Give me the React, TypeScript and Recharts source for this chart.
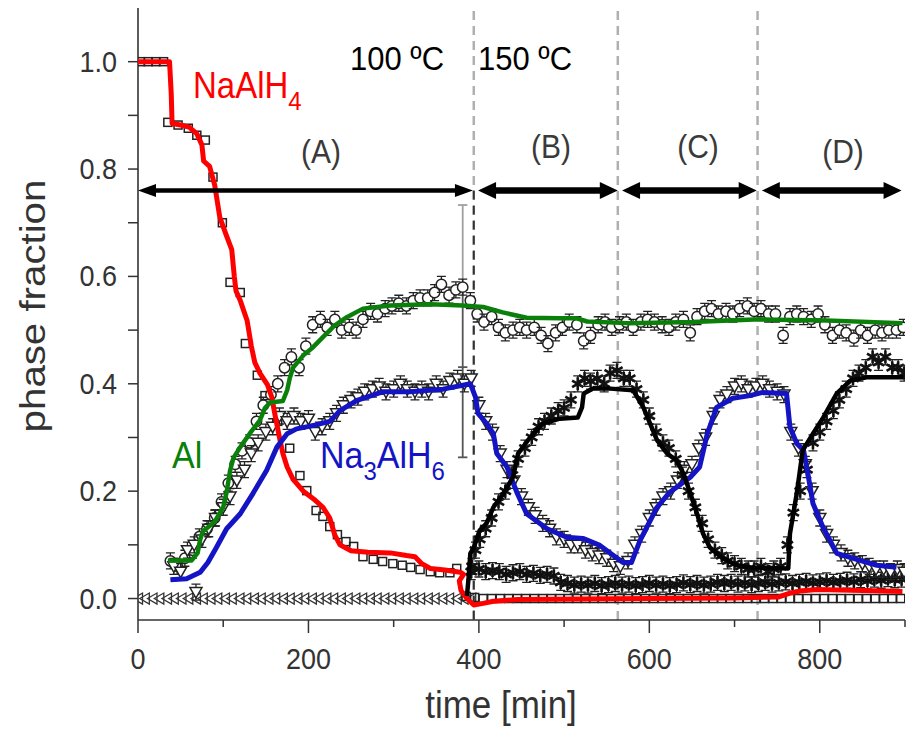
import React from "react";
import { ComposedChart, XAxis, YAxis, Line, Scatter, ReferenceLine } from "recharts";

const FONT = "'Liberation Sans', Arial, Helvetica, sans-serif";
const SY = 1.1; // source figure is slightly stretched vertically
const INK = "#222";

const xTicks = [0, 100, 200, 300, 400, 500, 600, 700, 800, 900];
const yTicks = [0, 0.1, 0.2, 0.3, 0.4, 0.5, 0.6, 0.7, 0.8, 0.9, 1.0];

// fitted curves: [time (min), phase fraction]
const naAlH4Fit = [
  [0, 1.0], [37, 1.0], [39, 0.94], [40, 0.885], [50, 0.882], [60, 0.878], [69, 0.866], [75, 0.845],
  [77, 0.815], [84, 0.805], [90, 0.77], [96, 0.71], [104, 0.675], [110, 0.65], [113, 0.6], [115, 0.573],
  [120, 0.555], [128, 0.518], [133, 0.47], [137, 0.44], [143, 0.42], [152, 0.398], [157, 0.375],
  [161, 0.34], [166, 0.3], [170, 0.27], [175, 0.245], [182, 0.222], [194, 0.2], [208, 0.183],
  [217, 0.17], [225, 0.15], [231, 0.118], [237, 0.1], [250, 0.089], [270, 0.086], [296, 0.085],
  [315, 0.08], [325, 0.078], [333, 0.065], [343, 0.056], [360, 0.053], [378, 0.049], [382, 0.045],
  [377, 0.033], [379, 0.015], [386, 0.0], [394, -0.012], [405, -0.009], [417, -0.005], [445, -0.002],
  [520, -0.001], [600, 0.0], [700, 0.001], [752, 0.003], [765, 0.01], [777, 0.014], [797, 0.017],
  [850, 0.015], [897, 0.013],
];
const alFit = [
  [35, 0.071], [63, 0.071], [70, 0.085], [73, 0.11], [76, 0.125], [90, 0.143], [100, 0.17], [104, 0.198],
  [108, 0.238], [112, 0.262], [120, 0.282], [131, 0.307], [143, 0.332], [149, 0.355], [155, 0.365],
  [170, 0.368], [175, 0.388], [178, 0.41], [182, 0.43], [194, 0.453], [204, 0.466], [217, 0.487],
  [231, 0.509], [245, 0.524], [264, 0.54], [296, 0.546], [343, 0.548], [381, 0.546], [405, 0.543],
  [428, 0.533], [456, 0.523], [495, 0.522], [515, 0.522], [527, 0.516], [574, 0.513], [651, 0.515],
  [730, 0.52], [808, 0.518], [897, 0.513],
];
const na3AlH6Fit = [
  [38, 0.035], [57, 0.037], [73, 0.049], [82, 0.067], [92, 0.095], [104, 0.13], [120, 0.158], [135, 0.196],
  [151, 0.239], [163, 0.282], [175, 0.307], [186, 0.316], [205, 0.322], [225, 0.33], [237, 0.35],
  [257, 0.369], [287, 0.385], [319, 0.385], [358, 0.39], [390, 0.4], [396, 0.375], [399, 0.345],
  [409, 0.326], [417, 0.307], [421, 0.27], [433, 0.245], [445, 0.196], [456, 0.158], [480, 0.13],
  [503, 0.114], [522, 0.112], [542, 0.099], [569, 0.067], [579, 0.067], [589, 0.108], [609, 0.17],
  [624, 0.198], [648, 0.226], [659, 0.245], [668, 0.307], [679, 0.356], [698, 0.373], [718, 0.378],
  [733, 0.384], [761, 0.382], [765, 0.319], [773, 0.289], [781, 0.276], [786, 0.233], [792, 0.177],
  [804, 0.132], [820, 0.084], [847, 0.071], [867, 0.062], [890, 0.058],
];
const naHFit = [
  [386, 0.005], [388, 0.04], [390, 0.084], [394, 0.095], [401, 0.127], [409, 0.14], [417, 0.17],
  [429, 0.196], [440, 0.226], [446, 0.27], [460, 0.3], [475, 0.326], [495, 0.335], [516, 0.337],
  [521, 0.356], [523, 0.382], [534, 0.391], [554, 0.391], [581, 0.388], [593, 0.356], [609, 0.295],
  [621, 0.27], [632, 0.257], [640, 0.233], [648, 0.196], [656, 0.158], [663, 0.121], [671, 0.095],
  [686, 0.075], [703, 0.062], [718, 0.058], [763, 0.056], [765, 0.121], [773, 0.196], [780, 0.276],
  [792, 0.307], [804, 0.337], [820, 0.382], [836, 0.406], [855, 0.412], [898, 0.412],
];

// measured points
const naAlH4Pts = [
  [3, 1.0], [12, 1.0], [21, 1.0], [30, 1.0], [35, 0.887], [47, 0.882], [59, 0.876], [69, 0.863],
  [79, 0.854], [88, 0.785], [99, 0.7], [108, 0.589], [120, 0.57], [126, 0.475], [140, 0.416],
  [149, 0.378], [164, 0.33], [178, 0.28], [190, 0.229], [198, 0.201], [209, 0.164], [217, 0.153],
  [225, 0.134], [234, 0.119], [244, 0.106], [253, 0.097], [264, 0.078], [276, 0.073], [287, 0.069],
  [299, 0.065], [310, 0.062], [320, 0.058], [331, 0.054], [343, 0.05], [354, 0.048], [366, 0.048],
  [374, 0.056], [385, 0.004], [395, 0.002], [405, 0.0], [415, 0.0], [425, 0.0], [435, 0.0], [445, 0.0],
  [455, 0.0], [465, 0.0], [475, 0.0], [485, 0.0], [495, 0.0], [505, 0.0], [515, 0.0], [525, 0.0],
  [535, 0.0], [545, 0.0], [555, 0.0], [565, 0.0], [575, 0.0], [585, 0.0], [595, 0.0], [605, 0.0],
  [615, 0.0], [625, 0.0], [635, 0.0], [645, 0.0], [655, 0.0], [665, 0.0], [675, 0.0], [685, 0.0],
  [695, 0.0], [705, 0.0], [715, 0.0], [725, 0.0], [735, 0.0], [745, 0.0], [755, 0.0], [765, 0.0],
  [775, 0.0], [785, 0.0], [795, 0.0], [805, 0.0], [815, 0.0], [825, 0.0], [835, 0.0], [845, 0.0],
  [855, 0.0], [865, 0.0], [875, 0.0], [885, 0.0], [895, 0.0],
];
const alPts = [
  [38, 0.07], [46, 0.06], [55, 0.075], [64, 0.09], [72, 0.115], [81, 0.13], [90, 0.15], [98, 0.18],
  [106, 0.215], [114, 0.25], [122, 0.275], [131, 0.29], [139, 0.33], [147, 0.36], [156, 0.38],
  [164, 0.4], [172, 0.43], [180, 0.45], [189, 0.43], [197, 0.47], [205, 0.51], [214, 0.52], [222, 0.505],
  [231, 0.52], [239, 0.5], [248, 0.505], [256, 0.5], [264, 0.52], [273, 0.535], [281, 0.53], [290, 0.54],
  [298, 0.545], [306, 0.55], [315, 0.545], [323, 0.555], [331, 0.56], [340, 0.56], [348, 0.57],
  [356, 0.585], [365, 0.565], [373, 0.575], [381, 0.58], [390, 0.555], [398, 0.53], [406, 0.515],
  [415, 0.525], [423, 0.505], [431, 0.495], [440, 0.5], [448, 0.505], [456, 0.5], [465, 0.505],
  [473, 0.49], [481, 0.475], [490, 0.495], [498, 0.505], [506, 0.515], [515, 0.51], [523, 0.48],
  [531, 0.49], [540, 0.51], [548, 0.515], [556, 0.505], [565, 0.51], [573, 0.515], [581, 0.505],
  [590, 0.515], [598, 0.52], [606, 0.515], [615, 0.51], [623, 0.505], [631, 0.515], [640, 0.52],
  [648, 0.495], [656, 0.525], [665, 0.535], [673, 0.54], [681, 0.53], [690, 0.535], [698, 0.53],
  [706, 0.54], [715, 0.545], [723, 0.535], [731, 0.54], [740, 0.53], [748, 0.53], [757, 0.49],
  [765, 0.525], [773, 0.53], [781, 0.525], [790, 0.52], [798, 0.53], [806, 0.51], [815, 0.49],
  [823, 0.5], [831, 0.495], [840, 0.485], [848, 0.5], [856, 0.49], [865, 0.5], [873, 0.495],
  [881, 0.5], [890, 0.5], [898, 0.505],
];
const na3AlH6Pts = [
  [42, 0.06], [50, 0.05], [58, 0.09], [66, 0.1], [68, 0.012], [75, 0.11], [83, 0.13], [91, 0.15],
  [100, 0.17], [108, 0.19], [116, 0.22], [125, 0.24], [133, 0.27], [141, 0.29], [150, 0.31], [158, 0.32],
  [166, 0.34], [175, 0.33], [183, 0.34], [191, 0.33], [200, 0.335], [208, 0.31], [216, 0.32], [225, 0.33],
  [233, 0.345], [241, 0.36], [250, 0.37], [258, 0.375], [266, 0.385], [275, 0.39], [283, 0.395],
  [291, 0.385], [300, 0.39], [308, 0.4], [316, 0.39], [325, 0.385], [333, 0.39], [341, 0.385],
  [350, 0.4], [358, 0.39], [366, 0.405], [375, 0.41], [383, 0.4], [391, 0.41], [400, 0.36], [408, 0.33],
  [416, 0.31], [425, 0.27], [433, 0.24], [441, 0.22], [450, 0.19], [458, 0.17], [466, 0.155],
  [475, 0.14], [483, 0.13], [491, 0.115], [500, 0.11], [508, 0.1], [516, 0.1], [525, 0.09], [533, 0.085],
  [541, 0.08], [550, 0.075], [558, 0.065], [566, 0.06], [575, 0.07], [583, 0.1], [591, 0.12], [600, 0.15],
  [608, 0.17], [616, 0.19], [625, 0.2], [633, 0.22], [641, 0.24], [650, 0.25], [658, 0.28], [666, 0.3],
  [675, 0.34], [683, 0.37], [691, 0.38], [700, 0.395], [708, 0.4], [716, 0.39], [725, 0.395],
  [733, 0.4], [741, 0.39], [750, 0.385], [758, 0.38], [766, 0.31], [775, 0.28], [783, 0.25], [791, 0.2],
  [800, 0.15], [808, 0.12], [816, 0.1], [825, 0.085], [833, 0.075], [841, 0.07], [850, 0.065],
  [858, 0.06], [866, 0.055], [875, 0.055], [883, 0.05], [891, 0.055], [899, 0.05],
];
const naHZeroPts = [
  [0, 0], [8, 0], [17, 0], [25, 0], [34, 0], [42, 0], [51, 0], [59, 0], [68, 0], [76, 0], [85, 0], [93, 0],
  [102, 0], [110, 0], [119, 0], [127, 0], [136, 0], [144, 0], [153, 0], [161, 0], [170, 0], [178, 0],
  [187, 0], [195, 0], [204, 0], [212, 0], [221, 0], [229, 0], [238, 0], [246, 0], [255, 0], [263, 0],
  [272, 0], [280, 0], [289, 0], [297, 0], [306, 0], [314, 0], [323, 0], [331, 0], [340, 0], [348, 0],
  [357, 0], [365, 0], [374, 0], [382, 0], [391, 0],
];
const naHPts = [
  [391, 0.05], [396, 0.09], [401, 0.11], [408, 0.13], [415, 0.15], [423, 0.18], [431, 0.2], [439, 0.23],
  [446, 0.26], [454, 0.28], [462, 0.3], [470, 0.32], [477, 0.33], [485, 0.34], [493, 0.35], [500, 0.355],
  [508, 0.37], [516, 0.4], [524, 0.41], [531, 0.405], [539, 0.41], [547, 0.4], [554, 0.42], [562, 0.425],
  [570, 0.41], [577, 0.41], [585, 0.39], [593, 0.37], [600, 0.34], [608, 0.31], [616, 0.29], [623, 0.28],
  [631, 0.26], [639, 0.23], [646, 0.2], [654, 0.17], [662, 0.14], [669, 0.11], [677, 0.09], [685, 0.08],
  [692, 0.07], [700, 0.065], [708, 0.06], [716, 0.055], [723, 0.055], [731, 0.06], [739, 0.05],
  [746, 0.055], [754, 0.06], [762, 0.1], [769, 0.16], [777, 0.2], [785, 0.24], [792, 0.29], [800, 0.31],
  [808, 0.33], [816, 0.35], [823, 0.37], [831, 0.39], [839, 0.41], [846, 0.42], [854, 0.43], [862, 0.45],
  [869, 0.44], [877, 0.45], [885, 0.43], [892, 0.43], [899, 0.42],
];
const minorPts = [
  [392, 0.06], [400, 0.055], [408, 0.05], [416, 0.052], [424, 0.05], [432, 0.045], [440, 0.048],
  [448, 0.05], [456, 0.045], [464, 0.047], [472, 0.043], [480, 0.045], [488, 0.042], [496, 0.03],
  [504, 0.028], [512, 0.025], [520, 0.027], [528, 0.025], [536, 0.028], [544, 0.024], [552, 0.026],
  [560, 0.028], [568, 0.025], [576, 0.027], [584, 0.024], [592, 0.026], [600, 0.028], [608, 0.025],
  [616, 0.027], [624, 0.024], [632, 0.026], [640, 0.029], [648, 0.026], [656, 0.028], [664, 0.025],
  [672, 0.027], [680, 0.03], [688, 0.028], [696, 0.03], [704, 0.027], [712, 0.029], [720, 0.026],
  [728, 0.028], [736, 0.03], [744, 0.027], [752, 0.029], [760, 0.031], [768, 0.028], [776, 0.03],
  [784, 0.032], [792, 0.029], [800, 0.031], [808, 0.033], [816, 0.03], [824, 0.032], [832, 0.034],
  [840, 0.031], [848, 0.035], [856, 0.033], [864, 0.036], [872, 0.034], [880, 0.037], [888, 0.035],
  [896, 0.036],
];

// stage arrows (A)-(D) as [from, to] in min, drawn at fraction arrowY
const stageArrows = [[0, 393], [399, 563], [568, 726], [732, 896]];
const arrowY = 0.76;
const tempStep = 394;
const stageBounds = [563, 727];
// representative error bar: [time, top, middle, cap, bottom]
const bigErr = [381, 0.733, 0.585, 0.431, 0.263];

const pts = (a: number[][]) => a.map(([t, v]) => ({ t, v }));

function ErrBar({ cx, cy }: any) {
  const h = 8;
  return (
    <path
      d={`M${cx},${cy - h}V${cy + h}M${cx - 4.5},${cy - h}H${cx + 4.5}M${cx - 4.5},${cy + h}H${cx + 4.5}`}
      stroke={INK}
      strokeWidth={1.3}
      fill="none"
    />
  );
}

function SquareMark({ cx, cy }: any) {
  return <rect x={cx - 4} y={cy - 4} width={8} height={8} fill="none" stroke={INK} strokeWidth={1.5} />;
}

function LeftTriMark({ cx, cy }: any) {
  return (
    <polygon
      points={`${cx - 5},${cy} ${cx + 4.5},${cy - 5.5} ${cx + 4.5},${cy + 5.5}`}
      fill="none"
      stroke="#333"
      strokeWidth={1.3}
    />
  );
}

function CircleMark({ cx, cy }: any) {
  return (
    <g>
      <ErrBar cx={cx} cy={cy} />
      <circle cx={cx} cy={cy} r={5.2} fill="#fff" stroke={INK} strokeWidth={1.5} />
    </g>
  );
}

function DownTriMark({ cx, cy }: any) {
  return (
    <g>
      <ErrBar cx={cx} cy={cy} />
      <polygon
        points={`${cx - 6},${cy - 4.5} ${cx + 6},${cy - 4.5} ${cx},${cy + 6}`}
        fill="#fff"
        stroke={INK}
        strokeWidth={1.5}
      />
    </g>
  );
}

function StarMark({ cx, cy }: any) {
  const r = 6.5;
  const a = r * 0.866;
  const b = r * 0.5;
  return (
    <g>
      <ErrBar cx={cx} cy={cy} />
      <path
        d={`M${cx},${cy - r}V${cy + r}M${cx - a},${cy - b}L${cx + a},${cy + b}M${cx - a},${cy + b}L${cx + a},${cy - b}`}
        stroke="#111"
        strokeWidth={2.6}
      />
    </g>
  );
}

function StageArrow({ x1, y1, x2, strokeWidth }: any) {
  const w = Number(strokeWidth) || 5;
  const hl = 18;
  const hh = w + 2;
  return (
    <g>
      <line x1={x1 + hl - 2} y1={y1} x2={x2 - hl + 2} y2={y1} stroke="#000" strokeWidth={w} />
      <polygon points={`${x1},${y1} ${x1 + hl},${y1 - hh} ${x1 + hl},${y1 + hh}`} fill="#000" />
      <polygon points={`${x2},${y1} ${x2 - hl},${y1 - hh} ${x2 - hl},${y1 + hh}`} fill="#000" />
    </g>
  );
}

function BottomTick({ x, y, payload }: any) {
  const v = payload.value;
  const major = v % 200 === 0;
  return (
    <g>
      <line x1={x} y1={y} x2={x} y2={y + (major ? 13 : 7)} stroke="#333" strokeWidth={1.5} />
      {major && (
        <text
          transform={`translate(${x},${y + 49}) scale(1,${SY})`}
          textAnchor="middle"
          fontSize={27}
          fill="#333"
          fontFamily={FONT}
        >
          {v}
        </text>
      )}
    </g>
  );
}

function TopTick({ x, y, payload }: any) {
  const major = payload.value % 200 === 0;
  return <line x1={x} y1={y} x2={x} y2={y + (major ? 10 : 6)} stroke="#555" strokeWidth={1.5} />;
}

function LeftTick({ x, y, payload }: any) {
  const v = payload.value;
  const labelled = Math.round(v * 10) % 2 === 0;
  return (
    <g>
      <line x1={x} y1={y} x2={x - 10} y2={y} stroke="#333" strokeWidth={1.5} />
      {labelled && (
        <text
          transform={`translate(${x - 21},${y + 10}) scale(1,${SY})`}
          textAnchor="end"
          fontSize={27}
          fill="#333"
          fontFamily={FONT}
        >
          {v.toFixed(1)}
        </text>
      )}
    </g>
  );
}

function RightTick({ x, y }: any) {
  return <line x1={x} y1={y} x2={x - 8} y2={y} stroke="#555" strokeWidth={1.5} />;
}

const ax = { xAxisId: "b", yAxisId: "l" };

export default function App() {
  return (
    <div style={{ position: "relative", width: 910, height: 729, background: "#fff" }}>
      <style>{`body{margin:0;background:#fff}`}</style>
      <ComposedChart width={910} height={729} margin={{ top: 8, right: 5, bottom: 0, left: 0 }}>
        <XAxis
          xAxisId="b"
          dataKey="t"
          type="number"
          domain={[0, 900]}
          ticks={xTicks}
          interval={0}
          height={109}
          tickSize={0}
          tickMargin={0}
          tickLine={false}
          tick={(p: any) => <BottomTick {...p} />}
          axisLine={{ stroke: "#333", strokeWidth: 1.6 }}
          allowDataOverflow
        />
        <XAxis
          xAxisId="top"
          orientation="top"
          type="number"
          domain={[0, 900]}
          ticks={xTicks}
          interval={0}
          height={0}
          tickSize={0}
          tickMargin={0}
          tickLine={false}
          tick={(p: any) => <TopTick {...p} />}
          axisLine={{ stroke: "#666", strokeWidth: 1.5 }}
          allowDataOverflow
        />
        <YAxis
          yAxisId="l"
          dataKey="v"
          type="number"
          domain={[-0.04, 1.1]}
          ticks={yTicks}
          interval={0}
          width={138}
          tickSize={0}
          tickMargin={0}
          tickLine={false}
          tick={(p: any) => <LeftTick {...p} />}
          axisLine={{ stroke: "#333", strokeWidth: 1.6 }}
          allowDataOverflow
        />
        <YAxis
          yAxisId="r"
          orientation="right"
          type="number"
          domain={[-0.04, 1.1]}
          ticks={yTicks}
          interval={0}
          width={0}
          tickSize={0}
          tickMargin={0}
          tickLine={false}
          tick={(p: any) => <RightTick {...p} />}
          axisLine={{ stroke: "#666", strokeWidth: 1.6 }}
          allowDataOverflow
        />

        <ReferenceLine {...ax} x={tempStep} stroke="#b0b0b0" strokeWidth={2.5} strokeDasharray="9 6" zIndex={100} />
        <ReferenceLine
          {...ax}
          segment={[{ x: tempStep, y: arrowY }, { x: tempStep, y: -0.04 }]}
          stroke="#333"
          strokeWidth={2}
          strokeDasharray="9 6"
          zIndex={100}
        />
        {stageBounds.map((b) => (
          <ReferenceLine key={b} {...ax} x={b} stroke="#b0b0b0" strokeWidth={2.5} strokeDasharray="9 6" zIndex={100} />
        ))}

        <Scatter {...ax} data={pts(naHZeroPts)} dataKey="v" shape={(p: any) => <LeftTriMark {...p} />} isAnimationActive={false} />
        <Scatter {...ax} data={pts(naAlH4Pts)} dataKey="v" shape={(p: any) => <SquareMark {...p} />} isAnimationActive={false} />
        <Scatter {...ax} data={pts(minorPts)} dataKey="v" shape={(p: any) => <StarMark {...p} />} isAnimationActive={false} />
        <Scatter {...ax} data={pts(alPts)} dataKey="v" shape={(p: any) => <CircleMark {...p} />} isAnimationActive={false} />
        <Scatter {...ax} data={pts(na3AlH6Pts)} dataKey="v" shape={(p: any) => <DownTriMark {...p} />} isAnimationActive={false} />
        <Scatter {...ax} data={pts(naHPts)} dataKey="v" shape={(p: any) => <StarMark {...p} />} isAnimationActive={false} />

        <ReferenceLine {...ax} segment={[{ x: bigErr[0], y: bigErr[1] }, { x: bigErr[0], y: bigErr[2] }]} stroke="#a0a0a0" strokeWidth={1.8} />
        <ReferenceLine {...ax} segment={[{ x: bigErr[0], y: bigErr[2] }, { x: bigErr[0], y: bigErr[4] }]} stroke="#555" strokeWidth={1.8} />
        {[bigErr[1], bigErr[3], bigErr[4]].map((yy) => (
          <ReferenceLine
            key={yy}
            {...ax}
            segment={[{ x: bigErr[0] - 5.5, y: yy }, { x: bigErr[0] + 5.5, y: yy }]}
            stroke={yy === bigErr[1] ? "#a0a0a0" : "#555"}
            strokeWidth={1.8}
          />
        ))}

        <Line {...ax} zIndex={700} data={pts(naAlH4Fit)} dataKey="v" type="linear" stroke="#ff0000" strokeWidth={5} strokeLinejoin="round" dot={false} isAnimationActive={false} />
        <Line {...ax} zIndex={700} data={pts(alFit)} dataKey="v" type="linear" stroke="#0a800a" strokeWidth={4.5} strokeLinejoin="round" dot={false} isAnimationActive={false} />
        <Line {...ax} zIndex={700} data={pts(na3AlH6Fit)} dataKey="v" type="linear" stroke="#1414c4" strokeWidth={5} strokeLinejoin="round" dot={false} isAnimationActive={false} />
        <Line {...ax} zIndex={700} data={pts(naHFit)} dataKey="v" type="linear" stroke="#000" strokeWidth={4.5} strokeLinejoin="round" dot={false} isAnimationActive={false} />

        {stageArrows.map(([a, b], i) => (
          <ReferenceLine
            key={a}
            {...ax}
            zIndex={800}
            segment={[{ x: a, y: arrowY }, { x: b, y: arrowY }]}
            stroke="#000"
            strokeWidth={i === 0 ? 4.5 : 6.5}
            shape={(p: any) => <StageArrow {...p} />}
          />
        ))}
      </ComposedChart>

      <svg
        width={910}
        height={729}
        style={{ position: "absolute", left: 0, top: 0, pointerEvents: "none" }}
        fontFamily={FONT}
      >
        <text transform={`translate(45,306) rotate(-90) scale(1.15,1)`} textAnchor="middle" fontSize={35} fill="#333">
          phase fraction
        </text>
        <text transform={`translate(501,718) scale(1,${SY})`} textAnchor="middle" fontSize={35} fill="#333">
          time [min]
        </text>
        <text transform={`translate(193,98) scale(1,${SY})`} fontSize={33} fill="#ff0000">
          NaAlH<tspan fontSize={24} dy={11}>4</tspan>
        </text>
        <text transform={`translate(350,70) scale(1,${SY})`} fontSize={31} fill="#000">100 ºC</text>
        <text transform={`translate(478,70) scale(1,${SY})`} fontSize={31} fill="#000">150 ºC</text>
        <text transform={`translate(321,163) scale(1,${SY})`} textAnchor="middle" fontSize={30} fill="#3a3a3a">(A)</text>
        <text transform={`translate(551,158) scale(1,${SY})`} textAnchor="middle" fontSize={30} fill="#3a3a3a">(B)</text>
        <text transform={`translate(698,158) scale(1,${SY})`} textAnchor="middle" fontSize={30} fill="#3a3a3a">(C)</text>
        <text transform={`translate(843,163) scale(1,${SY})`} textAnchor="middle" fontSize={30} fill="#3a3a3a">(D)</text>
        <text transform={`translate(172,468) scale(1,${SY})`} fontSize={34} fill="#0a800a">Al</text>
        <text transform={`translate(320,468) scale(1,${SY})`} fontSize={34} fill="#1414c4">
          Na<tspan fontSize={24} dy={11}>3</tspan>
          <tspan dy={-11}>AlH</tspan>
          <tspan fontSize={24} dy={11}>6</tspan>
        </text>
      </svg>
    </div>
  );
}
